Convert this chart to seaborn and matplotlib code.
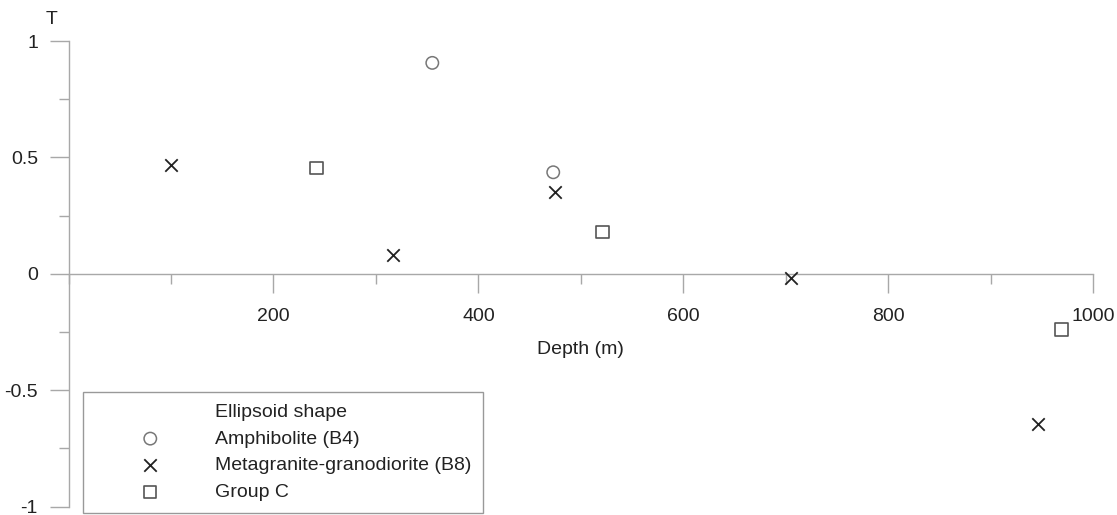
import matplotlib
matplotlib.use("Agg")
import matplotlib.pyplot as plt
import seaborn as sns
from matplotlib.lines import Line2D
from matplotlib.ticker import MultipleLocator

# T value of each ellipsoid against sampling depth (m)
amph_depth = [355, 473]
amph_t = [0.906, 0.436]
meta_depth = [100, 317, 475, 705, 946]
meta_t = [0.468, 0.081, 0.351, -0.018, -0.645]
grpc_depth = [242, 521, 969]
grpc_t = [0.454, 0.179, -0.239]

group_names = ["Amphibolite (B4)", "Metagranite-granodiorite (B8)", "Group C"]
legend_title = "Ellipsoid shape"
x_ticks = [200, 400, 600, 800, 1000]
x_tick_labels = ["200", "400", "600", "800", "1000"]
y_ticks = [-1, -0.5, 0, 0.5, 1]
y_tick_labels = ["-1", "-0.5", "0", "0.5", "1"]

sns.set_theme(style="white")
plt.rcParams["font.family"] = ["Liberation Sans", "DejaVu Sans"]

W, H = 1117, 515
fig = plt.figure(figsize=(W / 100, H / 100), dpi=100)
fig.patch.set_facecolor("white")
ax = fig.add_axes([68.5 / W, 1 - 506.5 / H, (1093.3 - 68.5) / W, (506.5 - 41.0) / H])
ax.set_facecolor("white")

text_col = "#222222"
axis_col = "#a8a8a8"

sns.scatterplot(x=amph_depth, y=amph_t, marker="o", s=80, facecolor="none",
                edgecolor="#777777", linewidth=1.1, ax=ax, label=group_names[0],
                clip_on=False, zorder=3)
sns.scatterplot(x=meta_depth, y=meta_t, marker="x", s=80, color="#222222",
                linewidth=1.3, ax=ax, label=group_names[1], clip_on=False, zorder=3)
sns.scatterplot(x=grpc_depth, y=grpc_t, marker="s", s=80, facecolor="none",
                edgecolor="#555555", linewidth=1.2, ax=ax, label=group_names[2],
                clip_on=False, zorder=3)

ax.set_xlim(0, 1000)
ax.set_ylim(-1, 1)

for side in ("top", "right"):
    ax.spines[side].set_visible(False)
for side in ("left", "bottom"):
    ax.spines[side].set_position(("data", 0))
    ax.spines[side].set_color(axis_col)
    ax.spines[side].set_linewidth(1.0)

ax.set_xticks(x_ticks)
ax.set_xticklabels(x_tick_labels)
ax.set_yticks(y_ticks)
ax.set_yticklabels(y_tick_labels)
ax.xaxis.set_minor_locator(MultipleLocator(100))
ax.yaxis.set_minor_locator(MultipleLocator(0.25))

ax.tick_params(which="major", length=14, width=1, color=axis_col, direction="out",
               labelsize=14, labelcolor=text_col)
ax.tick_params(which="minor", length=7, width=1, color=axis_col, direction="out")
ax.tick_params(axis="x", which="major", pad=11)
ax.tick_params(axis="y", which="major", pad=8)
ax.xaxis.set_ticks_position("bottom")
ax.yaxis.set_ticks_position("left")

ax.set_xlabel("Depth (m)", fontsize=14, color=text_col, labelpad=11)
ax.set_ylabel("")
fig.text(52 / W, 1 - 19 / H, "T", ha="center", va="center", fontsize=14, color=text_col)

handles = [Line2D([], [], linestyle="none", marker=None, color="none")] + list(ax.collections[:3])
labels = [legend_title] + group_names
old = ax.get_legend()
if old is not None:
    old.remove()
leg = ax.legend(handles, labels, loc="upper left",
                bbox_to_anchor=(82.7 / W, 1 - 391.7 / H), bbox_transform=fig.transFigure,
                frameon=True, fancybox=False, edgecolor="#999999", facecolor="white",
                framealpha=1, handlelength=5.75, handletextpad=0.47, borderpad=0.6,
                labelspacing=0.47, fontsize=14, borderaxespad=0)
leg.get_frame().set_linewidth(1.0)
for t in leg.get_texts():
    t.set_color(text_col)

fig.savefig("out.png", dpi=100, facecolor="white")
